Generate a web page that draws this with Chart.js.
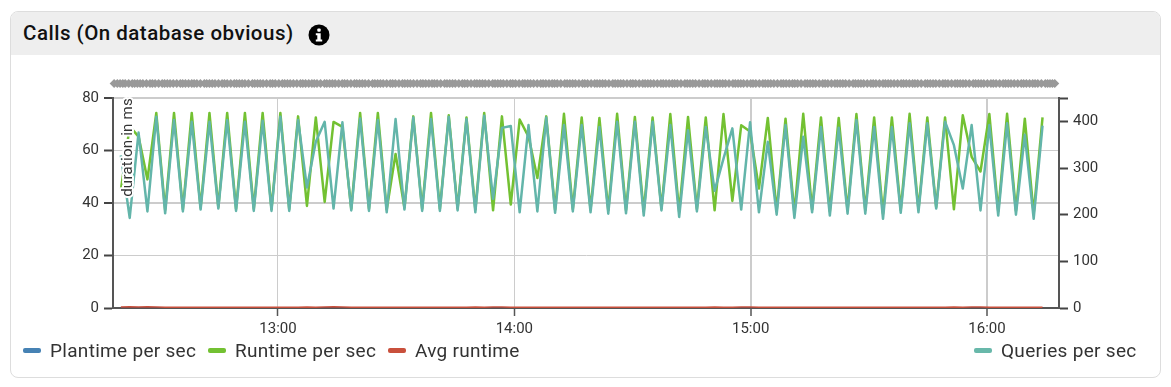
<!DOCTYPE html>
<html>
<head>
<meta charset="utf-8">
<script src="https://cdn.jsdelivr.net/npm/chart.js@4"></script>
<style>
  html, body { margin: 0; padding: 0; background: #fff; }
  body { position: relative; width: 1171px; height: 387px; overflow: hidden; font-family: Roboto, sans-serif; color: #333; }
  #card { position: absolute; left: 10px; top: 11px; width: 1149px; height: 365px; border: 1px solid #ddd; border-radius: 8px; overflow: hidden; }
  #head { height: 43px; background: #eee; }
  #title { position: absolute; left: 23px; top: 20px; font-size: 20.5px; font-weight: 500; line-height: 26px; color: #111; letter-spacing: 0.5px; white-space: nowrap; }
  #info { position: absolute; left: 308px; top: 24px; }
  canvas { position: absolute; left: 0; top: 0; }
  #marker-chart { top: 73px; }
  .leg { position: absolute; top: 339px; height: 24px; line-height: 24px; font-size: 19px; white-space: nowrap; letter-spacing: 0.3px; color: #333; }
  .leg i { position: absolute; left: 0; top: 9px; width: 18px; height: 5px; border-radius: 2px; }
  .leg span { position: absolute; left: 27px; }
</style>
</head>
<body>
<div id="card"><div id="head"></div></div>
<div id="title">Calls (On database obvious)</div>
<svg id="info" width="22" height="22" viewBox="0 0 22 22">
  <circle cx="11" cy="11" r="10.5" fill="#000"/>
  <rect x="9.3" y="4.6" width="3.4" height="3.2" rx="1" fill="#fff"/>
  <path d="M7.8 9.2h4.9v6.2h1.5v2H7.8v-2h1.5v-4.2H7.8z" fill="#fff"/>
</svg>
<canvas id="calls-chart" width="1171" height="387"></canvas>
<canvas id="marker-chart" width="1171" height="21"></canvas>
<script>
// sample times, minutes since midnight
const sampleMinutes = [
  740.10, 742.35, 744.60, 746.85, 749.10, 751.35, 753.60, 755.85, 758.10, 760.35,
  762.60, 764.85, 767.10, 769.35, 771.60, 773.85, 776.10, 778.35, 780.60, 782.85,
  785.10, 787.35, 789.60, 791.85, 794.10, 796.35, 798.60, 800.85, 803.10, 805.35,
  807.60, 809.85, 812.10, 814.35, 816.60, 818.85, 821.10, 823.35, 825.60, 827.85,
  830.10, 832.35, 834.60, 836.85, 839.10, 841.35, 843.60, 845.85, 848.10, 850.35,
  852.60, 854.85, 857.10, 859.35, 861.60, 863.85, 866.10, 868.35, 870.60, 872.85,
  875.10, 877.35, 879.60, 881.85, 884.10, 886.35, 888.60, 890.85, 893.10, 895.35,
  897.60, 899.85, 902.10, 904.35, 906.60, 908.85, 911.10, 913.35, 915.60, 917.85,
  920.10, 922.35, 924.60, 926.85, 929.10, 931.35, 933.60, 935.85, 938.10, 940.35,
  942.60, 944.85, 947.10, 949.35, 951.60, 953.85, 956.10, 958.35, 960.60, 962.85,
  965.10, 967.35, 969.60, 971.85, 974.10
];

const plantimePerSec = [
  0, 0, 0, 0, 0, 0, 0, 0, 0, 0, 0, 0, 0, 0, 0, 0, 0, 0, 0, 0, 0,
  0, 0, 0, 0, 0, 0, 0, 0, 0, 0, 0, 0, 0, 0, 0, 0, 0, 0, 0, 0, 0,
  0, 0, 0, 0, 0, 0, 0, 0, 0, 0, 0, 0, 0, 0, 0, 0, 0, 0, 0, 0, 0,
  0, 0, 0, 0, 0, 0, 0, 0, 0, 0, 0, 0, 0, 0, 0, 0, 0, 0, 0, 0, 0,
  0, 0, 0, 0, 0, 0, 0, 0, 0, 0, 0, 0, 0, 0, 0, 0, 0, 0, 0, 0, 0
];

const runtimePerSec = [
  44.8, 69.2, 65.3, 49.0, 74.3, 37.4, 74.3, 37.6, 74.3, 38.2,
  74.3, 38.4, 74.3, 37.8, 74.3, 37.8, 74.3, 37.7, 74.3, 37.7,
  73.0, 38.9, 72.6, 40.4, 70.9, 69.0, 37.8, 74.3, 37.8, 74.3,
  37.5, 58.7, 38.2, 73.0, 37.8, 74.3, 37.8, 73.4, 37.9, 72.6,
  37.5, 74.3, 37.2, 73.0, 39.4, 71.8, 65.3, 49.5, 73.0, 37.4,
  74.0, 37.7, 72.6, 37.5, 72.4, 37.2, 74.0, 37.3, 72.8, 36.8,
  72.6, 37.9, 73.9, 36.6, 72.8, 37.7, 72.6, 37.2, 73.9, 40.8,
  69.6, 67.2, 45.5, 72.4, 37.0, 72.1, 36.3, 74.0, 37.5, 72.6,
  36.8, 72.4, 37.2, 73.9, 37.2, 72.6, 35.9, 72.6, 37.4, 74.0,
  37.5, 72.6, 38.4, 72.6, 37.6, 73.4, 57.6, 52.0, 73.9, 36.8,
  74.0, 37.0, 72.1, 36.0, 72.6
];

const avgRuntime = [
  0.4, 0.5, 0.4, 0.5, 0.4, 0.3, 0.3, 0.3, 0.3, 0.3, 0.3, 0.3, 0.3, 0.3, 0.3,
  0.3, 0.3, 0.3, 0.3, 0.3, 0.3, 0.4, 0.3, 0.4, 0.5, 0.4, 0.3, 0.3, 0.3, 0.3,
  0.3, 0.3, 0.3, 0.3, 0.3, 0.3, 0.3, 0.3, 0.3, 0.3, 0.4, 0.3, 0.4, 0.4, 0.3,
  0.3, 0.3, 0.3, 0.3, 0.3, 0.3, 0.3, 0.3, 0.3, 0.3, 0.3, 0.3, 0.3, 0.3, 0.3,
  0.3, 0.3, 0.3, 0.3, 0.3, 0.3, 0.3, 0.4, 0.3, 0.3, 0.4, 0.4, 0.3, 0.3, 0.3,
  0.3, 0.3, 0.3, 0.3, 0.3, 0.3, 0.3, 0.3, 0.3, 0.3, 0.3, 0.3, 0.3, 0.3, 0.3,
  0.3, 0.3, 0.3, 0.3, 0.4, 0.3, 0.4, 0.4, 0.3, 0.3, 0.3, 0.3, 0.3, 0.3, 0.3
];

const queriesPerSec = [
  327, 193, 376, 207, 410, 203, 403, 207, 399, 211,
  399, 213, 403, 208, 399, 208, 401, 208, 410, 208,
  403, 258, 356, 399, 213, 398, 209, 406, 208, 403,
  205, 405, 211, 408, 208, 405, 208, 410, 209, 405,
  205, 412, 234, 386, 390, 205, 392, 207, 408, 204,
  392, 207, 392, 205, 388, 202, 399, 203, 399, 198,
  399, 209, 392, 195, 381, 207, 388, 251, 320, 385,
  211, 398, 205, 356, 200, 392, 193, 367, 205, 388,
  198, 386, 202, 403, 202, 388, 191, 388, 204, 396,
  205, 396, 213, 399, 349, 256, 392, 209, 392, 198,
  396, 200, 371, 191, 391
];

// grey markers in the strip above the plot
const markerLevel = 0.5;
const markerMinutes = [
  738.4, 739.2, 739.9, 740.6, 741.2, 742.1, 743.0, 743.6, 744.3, 745.0, 745.7, 746.6, 747.5, 748.1, 748.8, 749.7,
  750.6, 751.2, 751.9, 752.6, 753.4, 754.3, 755.2, 755.8, 756.5, 757.3, 758.1, 758.7, 759.4, 760.3, 761.3, 761.9,
  762.6, 763.3, 764.0, 764.9, 765.8, 766.4, 767.1, 768.0, 768.9, 769.5, 770.2, 770.9, 771.6, 772.5, 773.5, 774.1,
  774.8, 775.5, 776.2, 777.1, 778.0, 778.6, 779.3, 780.2, 781.1, 781.7, 782.4, 783.1, 783.9, 784.8, 785.7, 786.3,
  787.0, 787.8, 788.6, 789.2, 789.9, 790.8, 791.8, 792.4, 793.1, 793.8, 794.5, 795.4, 796.3, 796.9, 797.6, 798.5,
  799.4, 800.0, 800.7, 801.4, 802.1, 803.0, 804.0, 804.6, 805.3, 806.0, 806.7, 807.6, 808.5, 809.1, 809.8, 810.7,
  811.6, 812.2, 812.9, 813.6, 814.4, 815.3, 816.2, 816.8, 817.5, 818.3, 819.1, 819.7, 820.4, 821.3, 822.3, 822.9,
  823.6, 824.3, 825.0, 825.9, 826.8, 827.4, 828.1, 829.0, 829.9, 830.5, 831.2, 831.9, 832.6, 833.5, 834.5, 835.1,
  835.8, 836.5, 837.2, 838.1, 839.0, 839.6, 840.3, 841.2, 842.1, 842.7, 843.4, 844.1, 844.9, 845.8, 846.7, 847.3,
  848.0, 848.8, 849.6, 850.2, 850.9, 851.8, 852.8, 853.4, 854.1, 854.8, 855.5, 856.4, 857.3, 857.9, 858.6, 859.5,
  860.4, 861.0, 861.7, 862.4, 863.1, 864.0, 865.0, 865.6, 866.3, 867.0, 867.7, 868.6, 869.5, 870.1, 870.8, 871.7,
  872.6, 873.2, 873.9, 874.6, 875.4, 876.3, 877.2, 877.8, 878.5, 879.3, 880.1, 880.7, 881.4, 882.3, 883.3, 883.9,
  884.6, 885.3, 886.0, 886.9, 887.8, 888.4, 889.1, 890.0, 890.9, 891.5, 892.2, 892.9, 893.6, 894.5, 895.5, 896.1,
  896.8, 897.5, 898.2, 899.1, 900.0, 900.6, 901.3, 902.2, 903.1, 903.7, 904.4, 905.1, 905.9, 906.8, 907.7, 908.3,
  909.0, 909.8, 910.6, 911.2, 911.9, 912.8, 913.8, 914.4, 915.1, 915.8, 916.5, 917.4, 918.3, 918.9, 919.6, 920.5,
  921.4, 922.0, 922.7, 923.4, 924.1, 925.0, 926.0, 926.6, 927.3, 928.0, 928.7, 929.6, 930.5, 931.1, 931.8, 932.7,
  933.6, 934.2, 934.9, 935.6, 936.4, 937.3, 938.2, 938.8, 939.5, 940.3, 941.1, 941.7, 942.4, 943.3, 944.3, 944.9,
  945.6, 946.3, 947.0, 947.9, 948.8, 949.4, 950.1, 951.0, 951.9, 952.5, 953.2, 953.9, 954.6, 955.5, 956.5, 957.1,
  957.8, 958.5, 959.2, 960.1, 961.0, 961.6, 962.3, 963.2, 964.1, 964.7, 965.4, 966.1, 966.9, 967.8, 968.7, 969.3,
  970.0, 970.8, 971.6, 972.2, 972.9, 973.8, 974.8, 975.4, 976.0, 976.6, 977.2
];

const timeMin = 738.11;
const timeMax = 978.28;
const timeTicks = [780, 840, 900, 960];
const timeLabels = ['13:00', '14:00', '15:00', '16:00'];
const axisTitle = 'duration in ms';

const legendNames = ['Plantime per sec', 'Runtime per sec', 'Avg runtime', 'Queries per sec'];
const legendColors = ['#4682b4', '#73c132', '#c9503c', '#68b8aa'];
const legendLeft = [23, 208, 388, 974];

function pairs(values) {
  return values.map((v, i) => ({ x: sampleMinutes[i], y: v }));
}

// axis label sits inside the plot with a white halo round it
const insideTitle = {
  id: 'insideTitle',
  afterDatasetsDraw(chart) {
    const ctx = chart.ctx;
    ctx.save();
    ctx.translate(chart.chartArea.left + 15, chart.chartArea.top);
    ctx.rotate(-Math.PI / 2);
    ctx.font = '15px Roboto';
    ctx.letterSpacing = '0.25px';
    ctx.textAlign = 'right';
    ctx.textBaseline = 'middle';
    ctx.lineWidth = 4;
    ctx.lineJoin = 'round';
    ctx.strokeStyle = '#fff';
    ctx.fillStyle = '#333';
    ctx.strokeText(axisTitle, 0, 0);
    ctx.fillText(axisTitle, 0, 0);
    ctx.restore();
  }
};

new Chart(document.getElementById('calls-chart').getContext('2d'), {
  type: 'line',
  data: {
    datasets: [
      { label: legendNames[3], data: pairs(queriesPerSec), yAxisID: 'yRight', borderColor: '#63b5aa', borderWidth: 2.5, borderJoinStyle: 'round', order: 1 },
      { label: legendNames[2], data: pairs(avgRuntime), yAxisID: 'y', borderColor: '#c9503c', borderWidth: 1.5, order: 2 },
      { label: legendNames[0], data: pairs(plantimePerSec), yAxisID: 'y', borderColor: '#1d3f5c', borderWidth: 2, order: 3 },
      { label: legendNames[1], data: pairs(runtimePerSec), yAxisID: 'y', borderColor: '#73c132', borderWidth: 2.5, borderJoinStyle: 'round', order: 4 }
    ]
  },
  options: {
    responsive: false,
    animation: false,
    events: [],
    layout: { padding: { top: 98 } },
    elements: { point: { radius: 0 }, line: { tension: 0 } },
    plugins: { legend: { display: false }, tooltip: { enabled: false } },
    scales: {
      x: {
        type: 'linear',
        min: timeMin,
        max: timeMax,
        afterBuildTicks: s => { s.ticks = timeTicks.map(v => ({ value: v })); },
        afterFit: s => { s.height = 79; },
        border: { color: '#555', width: 2 },
        grid: {
          color: '#ccc',
          tickColor: '#555',
          tickLength: 8,
          tickWidth: 1.5,
          lineWidth: c => (c.index > 1 ? 2 : 1)
        },
        ticks: {
          maxRotation: 0,
          autoSkip: false,
          padding: 4,
          color: '#333',
          font: { family: 'Roboto', size: 15 },
          callback: (v, i) => timeLabels[i]
        }
      },
      y: {
        position: 'left',
        min: 0,
        max: 80,
        afterFit: s => { s.width = 113; },
        border: { color: '#555', width: 2 },
        grid: {
          color: '#ccc',
          tickColor: '#444',
          tickLength: 9,
          tickWidth: 2,
          lineWidth: c => (c.tick.value === 40 || c.tick.value === 80 ? 2 : 1)
        },
        ticks: {
          stepSize: 20,
          padding: 5,
          color: '#333',
          font: { family: 'Roboto', size: 15 }
        }
      },
      yRight: {
        position: 'right',
        min: 0,
        max: 450,
        afterFit: s => { s.width = 112; },
        border: { color: '#555', width: 2 },
        grid: {
          drawOnChartArea: false,
          tickColor: '#444',
          tickLength: 9,
          tickWidth: 2
        },
        ticks: {
          stepSize: 100,
          padding: 5,
          color: '#333',
          font: { family: 'Roboto', size: 15 },
          callback: v => (v === 450 ? '' : v)
        }
      }
    }
  },
  plugins: [insideTitle]
});

// the marker strip is its own small chart on the same time range
new Chart(document.getElementById('marker-chart').getContext('2d'), {
  type: 'line',
  data: {
    datasets: [{
      label: 'markers',
      data: markerMinutes.map(m => ({ x: m, y: markerLevel })),
      showLine: false,
      clip: false,
      pointStyle: 'rectRot',
      pointRadius: 4.5,
      pointBackgroundColor: '#999',
      pointBorderWidth: 0
    }]
  },
  options: {
    responsive: false,
    animation: false,
    events: [],
    layout: { padding: { left: 113, right: 112 } },
    plugins: { legend: { display: false }, tooltip: { enabled: false } },
    scales: {
      x: { type: 'linear', display: false, min: timeMin, max: timeMax },
      y: { display: false, min: 0, max: 1 }
    }
  }
});

// legend is split in two groups, left and right of the card
legendNames.forEach((name, i) => {
  const item = document.createElement('div');
  item.className = 'leg';
  item.style.left = legendLeft[i] + 'px';
  const swatch = document.createElement('i');
  swatch.style.background = legendColors[i];
  const text = document.createElement('span');
  text.textContent = name;
  item.appendChild(swatch);
  item.appendChild(text);
  document.body.appendChild(item);
});
</script>
</body>
</html>
